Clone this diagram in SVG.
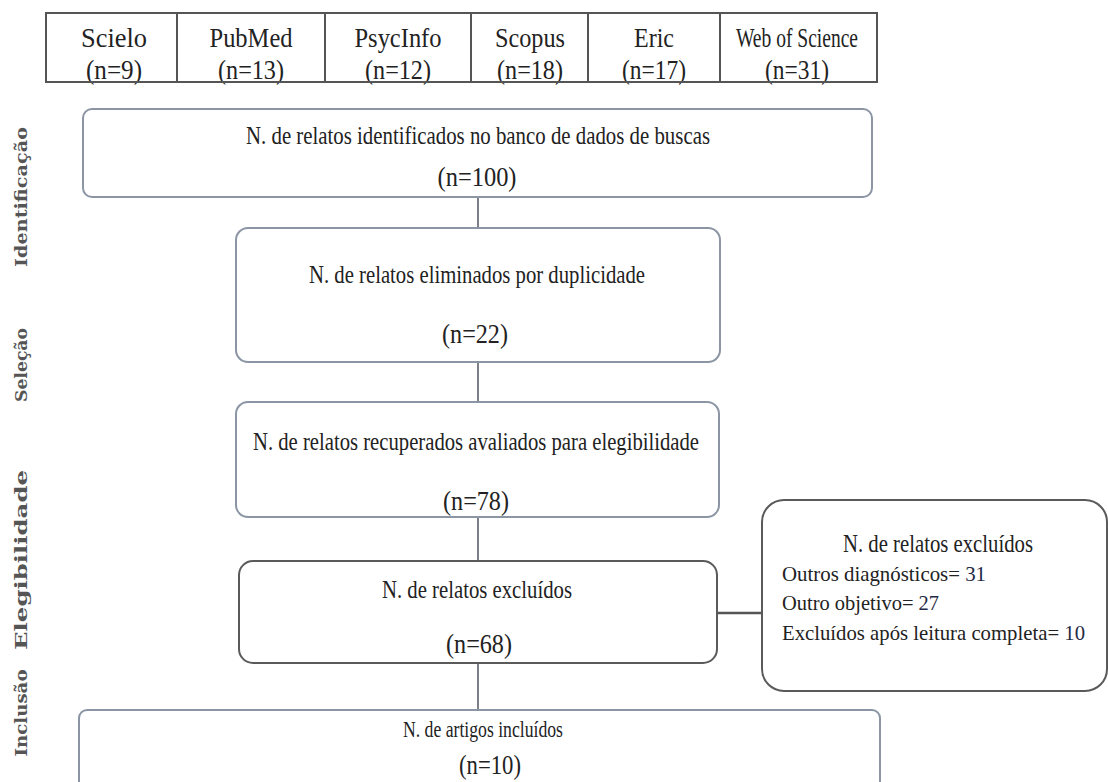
<svg xmlns="http://www.w3.org/2000/svg" width="1108" height="782" viewBox="0 0 1108 782">
<style>
.t{fill:#222;text-anchor:middle}
.l{fill:#222}
.f1{font-family:"Liberation Serif","Times New Roman",serif}
.lab{font-family:"DejaVu Serif",serif;font-weight:bold;font-size:17px;fill:#555;text-anchor:middle}
.bx{fill:#fff;stroke:#8c95a4;stroke-width:2}
.bd{fill:#fff;stroke:#5a5a5a;stroke-width:2}
.cell{fill:none;stroke:#555;stroke-width:2}
.con{stroke:#4e5564;stroke-width:1.5;fill:none}
.conh{stroke:#555;stroke-width:2.5;fill:none}
.num{fill:#1f2a44}
</style>
<rect width="1108" height="782" fill="#fff"/>

<g id="table" class="f1" font-size="22">
<text class="t" transform="translate(114 47) scale(1 1.25)" textLength="66" lengthAdjust="spacingAndGlyphs">Scielo</text>
<text class="t" transform="translate(114 79) scale(1 1.25)" textLength="56" lengthAdjust="spacingAndGlyphs">(n=9)</text>
<text class="t" transform="translate(251 47) scale(1 1.25)" textLength="83" lengthAdjust="spacingAndGlyphs">PubMed</text>
<text class="t" transform="translate(251 79) scale(1 1.25)" textLength="66" lengthAdjust="spacingAndGlyphs">(n=13)</text>
<text class="t" transform="translate(398 47) scale(1 1.25)" textLength="87" lengthAdjust="spacingAndGlyphs">PsycInfo</text>
<text class="t" transform="translate(398 79) scale(1 1.25)" textLength="66" lengthAdjust="spacingAndGlyphs">(n=12)</text>
<text class="t" transform="translate(530 47) scale(1 1.25)" textLength="70" lengthAdjust="spacingAndGlyphs">Scopus</text>
<text class="t" transform="translate(530 79) scale(1 1.25)" textLength="66" lengthAdjust="spacingAndGlyphs">(n=18)</text>
<text class="t" transform="translate(654 47) scale(1 1.25)" textLength="40" lengthAdjust="spacingAndGlyphs">Eric</text>
<text class="t" transform="translate(654 79) scale(1 1.25)" textLength="64" lengthAdjust="spacingAndGlyphs">(n=17)</text>
<text class="t" transform="translate(797 47) scale(1 1.25)" textLength="122" lengthAdjust="spacingAndGlyphs">Web of Science</text>
<text class="t" transform="translate(797 79) scale(1 1.25)" textLength="64" lengthAdjust="spacingAndGlyphs">(n=31)</text>
<rect class="cell" x="46" y="13" width="831" height="69"/>
<line x1="177" y1="13" x2="177" y2="82" stroke="#555" stroke-width="2"/>
<line x1="325" y1="13" x2="325" y2="82" stroke="#555" stroke-width="2"/>
<line x1="471" y1="13" x2="471" y2="82" stroke="#555" stroke-width="2"/>
<line x1="588" y1="13" x2="588" y2="82" stroke="#555" stroke-width="2"/>
<line x1="720" y1="13" x2="720" y2="82" stroke="#555" stroke-width="2"/>
</g>

<g id="labels">
<text class="lab" transform="translate(27 197) rotate(-90)" textLength="140" lengthAdjust="spacingAndGlyphs">Identificação</text>
<text class="lab" transform="translate(27 365) rotate(-90)" textLength="74" lengthAdjust="spacingAndGlyphs">Seleção</text>
<text class="lab" transform="translate(27 560) rotate(-90)" textLength="180" lengthAdjust="spacingAndGlyphs">Elegibilidade</text>
<text class="lab" transform="translate(27 713) rotate(-90)" textLength="87" lengthAdjust="spacingAndGlyphs">Inclusão</text>
</g>

<g id="connectors">
<line class="con" x1="478" y1="197" x2="478" y2="228"/>
<line class="con" x1="478" y1="362" x2="478" y2="402"/>
<line class="con" x1="478" y1="517" x2="478" y2="561"/>
<line class="con" x1="478" y1="663" x2="478" y2="710"/>
<line class="conh" x1="717" y1="613" x2="762" y2="613"/>
</g>

<g id="identified" class="f1">
<rect class="bx" x="83" y="109" width="789" height="88" rx="9"/>
<text class="t" font-size="21" transform="translate(478 144) scale(1 1.2)" textLength="464" lengthAdjust="spacingAndGlyphs">N. de relatos identificados no banco de dados de buscas</text>
<text class="t" font-size="23" transform="translate(477 186) scale(1 1.2)" textLength="79" lengthAdjust="spacingAndGlyphs">(n=100)</text>
</g>

<g id="duplicates" class="f1">
<rect class="bx" x="236" y="228" width="484" height="134" rx="12"/>
<text class="t" font-size="21" transform="translate(477 283) scale(1 1.2)" textLength="336" lengthAdjust="spacingAndGlyphs">N. de relatos eliminados por duplicidade</text>
<text class="t" font-size="23" transform="translate(475 343) scale(1 1.2)" textLength="66" lengthAdjust="spacingAndGlyphs">(n=22)</text>
</g>

<g id="eligibility" class="f1">
<rect class="bx" x="236" y="402" width="483" height="115" rx="12"/>
<text class="t" font-size="21" transform="translate(476 450) scale(1 1.2)" textLength="446" lengthAdjust="spacingAndGlyphs">N. de relatos recuperados avaliados para elegibilidade</text>
<text class="t" font-size="23" transform="translate(476 510) scale(1 1.2)" textLength="66" lengthAdjust="spacingAndGlyphs">(n=78)</text>
</g>

<g id="excluded" class="f1">
<rect class="bd" x="239" y="561" width="478" height="102" rx="14"/>
<text class="t" font-size="21" transform="translate(477 598) scale(1 1.2)" textLength="190" lengthAdjust="spacingAndGlyphs">N. de relatos excluídos</text>
<text class="t" font-size="23" transform="translate(479 653) scale(1 1.2)" textLength="66" lengthAdjust="spacingAndGlyphs">(n=68)</text>
</g>

<g id="excluded-detail" class="f1">
<rect class="bd" x="762" y="500" width="345" height="191" rx="22"/>
<text class="t" font-size="21" transform="translate(938 552) scale(1 1.15)" textLength="190" lengthAdjust="spacingAndGlyphs">N. de relatos excluídos</text>
<text class="l" font-size="20" transform="translate(782 581) scale(1 1.1)" textLength="204" lengthAdjust="spacingAndGlyphs">Outros diagnósticos= <tspan class="num">31</tspan></text>
<text class="l" font-size="20" transform="translate(782 610) scale(1 1.1)" textLength="157" lengthAdjust="spacingAndGlyphs">Outro objetivo= <tspan class="num">27</tspan></text>
<text class="l" font-size="20" transform="translate(782 640) scale(1 1.1)" textLength="303" lengthAdjust="spacingAndGlyphs">Excluídos após leitura completa= <tspan class="num">10</tspan></text>
</g>

<g id="included" class="f1">
<rect class="bx" x="79" y="710" width="801" height="90" rx="8"/>
<text class="t" font-size="19" transform="translate(483 737) scale(1 1.2)" textLength="160" lengthAdjust="spacingAndGlyphs">N. de artigos incluídos</text>
<text class="t" font-size="23" transform="translate(490 774) scale(1 1.2)" textLength="62" lengthAdjust="spacingAndGlyphs">(n=10)</text>
</g>
</svg>
